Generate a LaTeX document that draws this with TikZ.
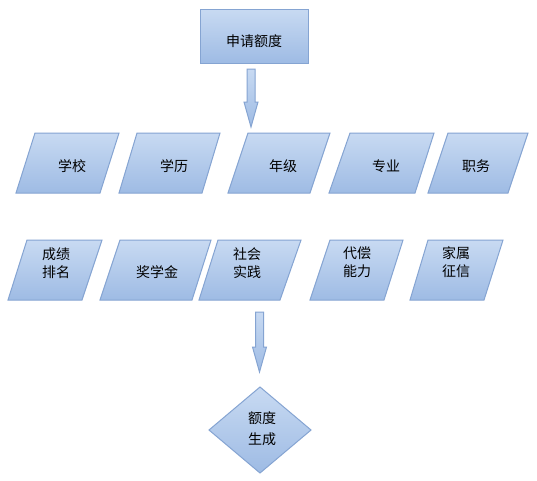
\documentclass[tikz,border=0pt]{standalone}
\usepackage{fontspec}
\newfontfamily\cjk{Noto Sans CJK SC}
\definecolor{fillTop}{RGB}{200,218,242}
\definecolor{fillBot}{RGB}{158,187,228}
\definecolor{edge}{RGB}{133,164,210}
\tikzset{
  box/.style={draw=edge, line width=1pt, top color=fillTop, bottom color=fillBot},
  lbl/.style={inner sep=0pt, font=\cjk\fontsize{14}{18}\selectfont, align=center, text=black},
}
\newcommand\myarrow[3]{% centre x, top y, tip y
  \path[box] (#1-4,#2) -- (#1+4,#2) -- (#1+4,#3-25) -- (#1+7,#3-25) -- (#1,#3)
    -- (#1-7,#3-25) -- (#1-4,#3-25) -- cycle;}
\begin{document}
\begin{tikzpicture}[x=1pt,y=-1pt]
\useasboundingbox[fill=white] (0,0) rectangle (537,480);
% top box
\path[box] (200,9) rectangle (308,63);
\node[lbl] (apply) at (254,41) {申请额度};
\myarrow{251}{69}{127}
% row 1
\path[box] (35,133) -- (119,133) -- (100,193) -- (16,193) -- cycle;
\node[lbl] (school) at (72,166) {学校};
\path[box] (137,133) -- (220,133) -- (202,193) -- (119,193) -- cycle;
\node[lbl] (degree) at (174,166) {学历};
\path[box] (248,133) -- (330,133) -- (310,193) -- (228,193) -- cycle;
\node[lbl] (grade) at (283,166) {年级};
\path[box] (350,133) -- (434,133) -- (415,193) -- (329,193) -- cycle;
\node[lbl] (major) at (386,166) {专业};
\path[box] (448,133) -- (528,133) -- (508,193) -- (428,193) -- cycle;
\node[lbl] (duty) at (476,166) {职务};
% row 2
\path[box] (27,240) -- (102,240) -- (82,300) -- (8,300) -- cycle;
\node[lbl] (rank) at (56,263) {成绩\\排名};
\path[box] (120,240) -- (211,240) -- (192,300) -- (100,300) -- cycle;
\node[lbl] (scholar) at (157,272) {奖学金};
\path[box] (218,240) -- (301,240) -- (280,300) -- (199,300) -- cycle;
\node[lbl] (social) at (247,263) {社会\\实践};
\path[box] (330,240) -- (403,240) -- (384,300) -- (310,300) -- cycle;
\node[lbl] (repay) at (357,262) {代偿\\能力};
\path[box] (428,240) -- (503,240) -- (484,300) -- (410,300) -- cycle;
\node[lbl] (credit) at (456,262) {家属\\征信};
\myarrow{259.5}{312}{372}
% diamond
\path[box] (260,387) -- (311,430) -- (260,473) -- (209,430) -- cycle;
\node[lbl, font=\cjk\fontsize{14}{21}\selectfont] (result) at (262,429) {额度\\生成};
\end{tikzpicture}
\end{document}
